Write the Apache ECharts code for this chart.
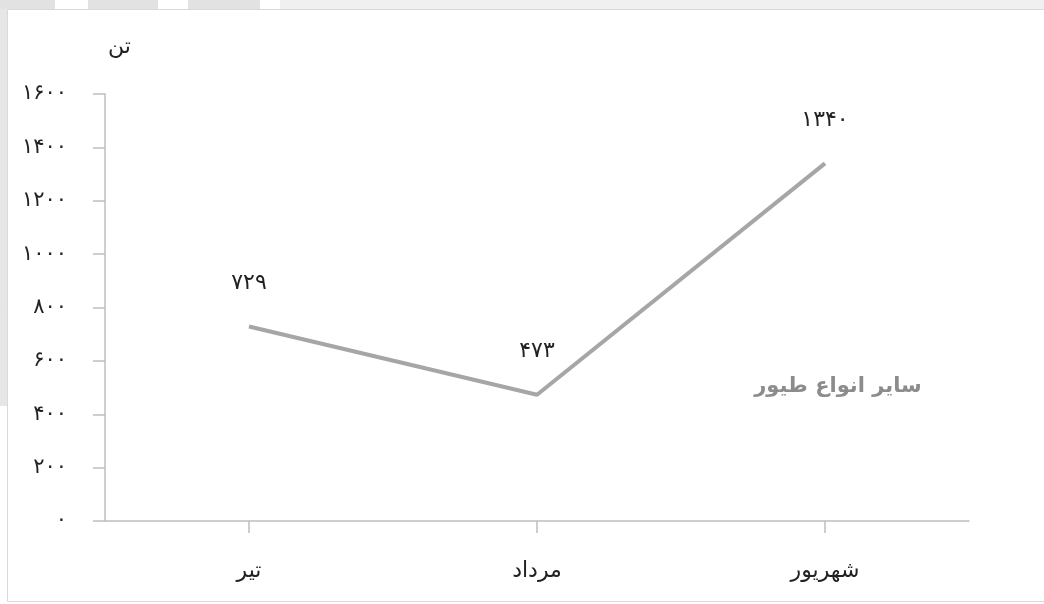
<!DOCTYPE html>
<html>
<head>
<meta charset="utf-8">
<script src="https://cdn.jsdelivr.net/npm/echarts@6/dist/echarts.min.js"></script>
<style>
html,body{margin:0;padding:0;background:#fff;}
#c{width:1044px;height:604px;}
</style>
</head>
<body>
<div id="c"></div>
<script>
var categories = ['تیر', 'مرداد', 'شهریور'];
var values = [729, 473, 1340];
var seriesName = 'سایر انواع طیور';
var unitLabel = 'تن';

function fa(n) {
  var d = '۰۱۲۳۴۵۶۷۸۹';
  return String(n).replace(/[0-9]/g, function (c) { return d[+c]; });
}

var FONT = 'DejaVu Sans';
var chart = echarts.init(document.getElementById('c'));
chart.setOption({
  backgroundColor: '#ffffff',
  animation: false,
  grid: { left: 105, right: 75, top: 94, bottom: 83 },
  xAxis: {
    type: 'category',
    data: categories,
    boundaryGap: true,
    axisLine: { lineStyle: { color: '#bfbfbf', width: 1.5 } },
    axisTick: { show: true, interval: 0, alignWithLabel: true, length: 12, lineStyle: { color: '#bfbfbf', width: 1.5 } },
    axisLabel: { margin: 39, fontSize: 22, color: '#222', fontFamily: FONT }
  },
  yAxis: {
    type: 'value',
    min: 0, max: 1600, interval: 200,
    axisLine: { show: true, lineStyle: { color: '#bfbfbf', width: 1.5 } },
    axisTick: { show: true, length: 12, lineStyle: { color: '#bfbfbf', width: 1.5 } },
    splitLine: { show: false },
    axisLabel: { margin: 38, fontSize: 21, color: '#222', fontFamily: FONT, formatter: function (v) { return fa(v); } }
  },
  series: [{
    name: seriesName,
    type: 'line',
    data: values,
    symbol: 'circle',
    symbolSize: 1,
    showSymbol: true,
    itemStyle: { color: 'rgba(166,166,166,0)' },
    lineStyle: { color: '#a6a6a6', width: 4 },
    label: {
      show: true, position: 'top', distance: 32,
      fontSize: 22, color: '#222', fontFamily: FONT,
      formatter: function (p) { return fa(p.value); }
    }
  }],
  graphic: [
    { type: 'rect', shape: { x: 0, y: 0, width: 1044, height: 9 }, style: { fill: '#f0f0f0' }, silent: true },
    { type: 'rect', shape: { x: 0, y: 0, width: 55, height: 9 }, style: { fill: '#e2e2e2' }, silent: true },
    { type: 'rect', shape: { x: 55, y: 0, width: 33, height: 9 }, style: { fill: '#ffffff' }, silent: true },
    { type: 'rect', shape: { x: 88, y: 0, width: 70, height: 9 }, style: { fill: '#e2e2e2' }, silent: true },
    { type: 'rect', shape: { x: 158, y: 0, width: 30, height: 9 }, style: { fill: '#ffffff' }, silent: true },
    { type: 'rect', shape: { x: 188, y: 0, width: 72, height: 9 }, style: { fill: '#e2e2e2' }, silent: true },
    { type: 'rect', shape: { x: 260, y: 0, width: 20, height: 9 }, style: { fill: '#ffffff' }, silent: true },
    { type: 'rect', shape: { x: 0, y: 9, width: 7, height: 397 }, style: { fill: '#e6e6e6' }, silent: true },
    { type: 'rect', shape: { x: 7.5, y: 9.5, width: 1040, height: 592 }, style: { fill: 'none', stroke: '#d9d9d9', lineWidth: 1 }, silent: true },
    { type: 'text', left: 108, top: 36, style: { text: unitLabel, fontSize: 22, fill: '#222', fontFamily: FONT } },
    { type: 'text', x: 838, y: 387, style: { text: seriesName, fontSize: 21, fill: '#8c8c8c', fontFamily: FONT, fontWeight: 'bold', align: 'center', verticalAlign: 'middle' } }
  ]
});
</script>
</body>
</html>
